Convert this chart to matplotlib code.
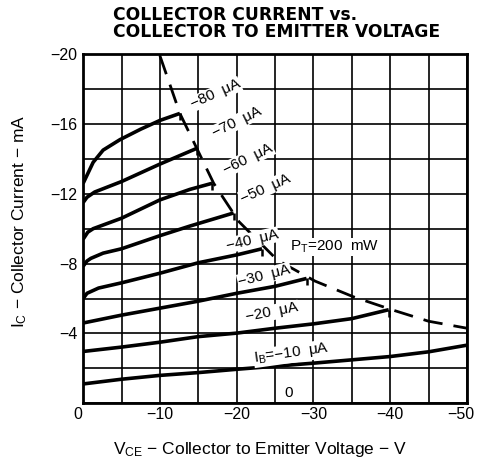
import numpy as np
import matplotlib
matplotlib.use("Agg")
import matplotlib.pyplot as plt
from matplotlib.transforms import ScaledTranslation

# ------------------------------------------------------------------
# Data (V_CE in V, I_C in mA; both negative)
# ------------------------------------------------------------------
vce_80 = [0, -1.3, -2.6, -4.8, -7.5, -10, -12.6]
ic_80 = [-12.6, -13.8, -14.5, -15.1, -15.7, -16.2, -16.6]

vce_70 = [0, -0.5, -1.5, -5, -10, -14.8]
ic_70 = [-11.5, -11.8, -12.1, -12.7, -13.7, -14.6]

vce_60 = [0, -0.6, -1.3, -5, -10, -13.9, -16.8]
ic_60 = [-9.4, -9.8, -10.0, -10.6, -11.65, -12.25, -12.6]

vce_50 = [0, -0.5, -1.0, -2.6, -5, -10, -13.9, -19.6]
ic_50 = [-7.85, -8.15, -8.3, -8.6, -8.85, -9.6, -10.15, -10.9]

vce_40 = [0, -0.5, -2, -5, -10, -15, -20, -23.3]
ic_40 = [-6.0, -6.3, -6.6, -6.9, -7.45, -8.05, -8.5, -8.85]

vce_30 = [0, -5, -10, -15, -20, -25, -29.1]
ic_30 = [-4.6, -5.05, -5.45, -5.85, -6.3, -6.7, -7.15]

vce_20 = [0, -5, -10, -15, -20, -25, -30, -35, -39.8]
ic_20 = [-2.97, -3.22, -3.5, -3.82, -4.02, -4.3, -4.55, -4.85, -5.36]

vce_10 = [0, -5, -10, -15, -20, -30, -40, -45, -50]
ic_10 = [-1.11, -1.38, -1.6, -1.76, -1.95, -2.3, -2.68, -2.95, -3.33]

# constant power line, P_T = 200 mW
vce_pt = [-10, -12.6, -14.8, -17, -20.3, -25.3, -30.2, -35.2, -40.2, -45, -50]
ic_pt = [-19.9, -16.6, -14.6, -12.6, -10.4, -8.2, -7.0, -6.1, -5.36, -4.7, -4.3]

curves = [(vce_80, ic_80), (vce_70, ic_70), (vce_60, ic_60), (vce_50, ic_50),
          (vce_40, ic_40), (vce_30, ic_30), (vce_20, ic_20), (vce_10, ic_10)]

# curve labels: text, V, I, rotation
label_text = ["−80  μA", "−70  μA", "−60  μA", "−50  μA",
              "−40  μA", "−30  μA", "−20  μA",
              r"$\mathregular{I_B}$=−10  μA", "0"]
label_v = [-17.2, -20.0, -21.5, -23.7, -22.0, -23.6, -24.6, -27.2, -26.8]
label_i = [-17.7, -16.1, -14.0, -12.3, -9.35, -7.3, -5.2, -2.85, -0.6]
label_rot = [24, 26, 26, 24, 13, 14, 11, 8, 0]

x_ticks = [0, -10, -20, -30, -40, -50]
y_ticks = [-4, -8, -12, -16, -20]

plt.rcParams["font.family"] = ["Liberation Sans", "DejaVu Sans"]

fig = plt.figure(figsize=(4.78, 4.62), dpi=100)
ax = fig.add_axes([0.174, 0.127, 0.803, 0.756])

ax.set_xlim(0, -50)
ax.set_ylim(0, -20)

# grid every 5 V / 2 mA
ax.set_xticks(np.arange(0, -51, -5), minor=True)
ax.set_yticks(np.arange(0, -21, -2), minor=True)
ax.set_xticks(x_ticks)
ax.set_yticks(y_ticks)
ax.grid(True, which="both", color="black", linewidth=1.2)
ax.set_axisbelow(True)
ax.set_xticklabels(["0" if t == 0 else f"−{abs(t)}" for t in x_ticks])
ax.set_yticklabels([f"−{abs(t)}" for t in y_ticks])
ax.tick_params(which="both", length=0, labelsize=11.5)
ax.tick_params(axis="x", pad=3)
ax.tick_params(axis="y", pad=4)
for s in ax.spines.values():
    s.set_linewidth(2)

# nudge the end labels so they stay inside the figure
xl = ax.get_xticklabels()
xl[-1].set_transform(xl[-1].get_transform() + ScaledTranslation(-6 / 100, 0, fig.dpi_scale_trans))
xl[0].set_transform(xl[0].get_transform() + ScaledTranslation(-5 / 100, 0, fig.dpi_scale_trans))

for v, i in curves:
    ax.plot(v, i, color="black", linewidth=2.6, solid_capstyle="butt",
            marker=3, markevery=[-1], markersize=5, markeredgewidth=1.8, zorder=3)

ax.plot(vce_pt, ic_pt, color="black", linewidth=2.0, dashes=(7, 4), zorder=3)

for t, v, i, r in zip(label_text, label_v, label_i, label_rot):
    ax.text(v, i, t, fontsize=11, rotation=r, ha="center", va="center", zorder=4,
            bbox=dict(facecolor="white", edgecolor="none", pad=0.5))

ax.text(-32.7, -8.95, r"$\mathregular{P_T}$=200  mW", fontsize=11, ha="center",
        va="center", zorder=4, bbox=dict(facecolor="white", edgecolor="none", pad=0.5))

ax.set_xlabel(r"$\mathregular{V_{CE}}$ − Collector to Emitter Voltage − V", fontsize=12.5)
ax.xaxis.set_label_coords(0.46, -0.105)
ax.set_ylabel(r"$\mathregular{I_C}$ − Collector Current − mA", fontsize=12.5)
ax.yaxis.set_label_coords(-0.14, 0.52)

fig.text(0.236, 0.967, "COLLECTOR CURRENT vs.", fontsize=12.3, fontweight="bold",
         ha="left", va="center", family="DejaVu Sans")
fig.text(0.236, 0.931, "COLLECTOR TO EMITTER VOLTAGE", fontsize=12.3, fontweight="bold",
         ha="left", va="center", family="DejaVu Sans")

fig.savefig("out.png", dpi=100)
